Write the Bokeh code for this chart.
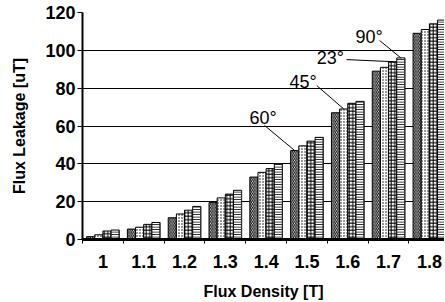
from bokeh.plotting import figure
from bokeh.models import ColumnDataSource, FixedTicker, Label
from bokeh.transform import dodge
from bokeh.embed import file_html
from bokeh.resources import INLINE

categories = ["1", "1.1", "1.2", "1.3", "1.4", "1.5", "1.6", "1.7", "1.8"]
series_names = ["60°", "45°", "23°", "90°"]
s60 = [1.5, 5.5, 11.5, 19.5, 33, 47, 67, 89, 109]
s45 = [2.5, 6.5, 13.5, 22, 35.5, 49.5, 69, 91, 111]
s23 = [4.5, 8, 15.5, 24, 37.5, 52, 72, 94, 114]
s90 = [5, 9, 17.5, 26, 40, 54, 73, 96, 116]
y_ticks = [0, 20, 40, 60, 80, 100, 120]

xs = list(range(len(categories)))
src = ColumnDataSource(dict(x=xs, s60=s60, s45=s45, s23=s23, s90=s90))

FONT = "Liberation Sans"

p = figure(frame_width=362, frame_height=227, output_backend="svg", toolbar_location=None,
           x_range=(-0.5, 8.37), y_range=(0, 120),
           min_border_left=82, min_border_right=0, min_border_top=12, min_border_bottom=55)
p.outline_line_color = None
p.background_fill_color = "white"
p.border_fill_color = "white"

cols = ["s60", "s45", "s23", "s90"]
offsets = [-0.3, -0.1, 0.1, 0.3]
patterns = ["\\", ".", "+", "-"]
scales = [3.5, 3, 3.5, 2.5]
for c, off, pat, sc in zip(cols, offsets, patterns, scales):
    p.vbar(x=dodge("x", off), top=c, width=0.2, bottom=0, source=src,
           fill_color="white", line_color="black", line_width=1,
           hatch_pattern=pat, hatch_color="black", hatch_scale=sc, hatch_weight=1)
    # dark side edge for a 3D look
    p.vbar(x=dodge("x", off + 0.095), top=c, width=0.025, bottom=0, source=src,
           fill_color="#333333", line_color=None)

# axes
p.xaxis.ticker = FixedTicker(ticks=xs, minor_ticks=[i + 0.5 for i in range(-1, len(categories))])
p.xaxis.major_label_overrides = {i: c for i, c in enumerate(categories)}
p.xaxis.major_tick_out = 0
p.xaxis.major_tick_in = 0
p.xaxis.minor_tick_out = 4
p.xaxis.minor_tick_in = 0
p.xaxis.minor_tick_line_color = "black"
p.xaxis.axis_line_width = 3
p.xaxis.axis_line_color = "black"
p.xaxis.major_label_text_font = FONT
p.xaxis.major_label_text_font_style = "bold"
p.xaxis.major_label_text_font_size = "18px"
p.xaxis.major_label_text_color = "black"
p.xaxis.major_label_standoff = 11
p.xaxis.axis_label = "Flux Density [T]"
p.xaxis.axis_label_text_font = FONT
p.xaxis.axis_label_text_font_style = "bold"
p.xaxis.axis_label_text_font_size = "16px"
p.xaxis.axis_label_text_color = "black"
p.xaxis.axis_label_standoff = 12

p.yaxis.ticker = FixedTicker(ticks=y_ticks)
p.yaxis.major_tick_out = 5
p.yaxis.major_tick_in = 0
p.yaxis.minor_tick_line_color = None
p.yaxis.axis_line_width = 2
p.yaxis.axis_line_color = "black"
p.yaxis.major_label_text_font = FONT
p.yaxis.major_label_text_font_style = "bold"
p.yaxis.major_label_text_font_size = "18px"
p.yaxis.major_label_text_color = "black"
p.yaxis.major_label_standoff = 2
p.yaxis.axis_label = "Flux Leakage [uT]"
p.yaxis.axis_label_text_font = FONT
p.yaxis.axis_label_text_font_style = "bold"
p.yaxis.axis_label_text_font_size = "16px"
p.yaxis.axis_label_text_color = "black"
p.yaxis.axis_label_standoff = 14

p.xgrid.grid_line_color = None
p.ygrid.ticker = FixedTicker(ticks=y_ticks)
p.ygrid.grid_line_color = "black"
p.ygrid.grid_line_width = 1
p.ygrid.level = "underlay"

# annotations: label position (data units), leader start, target bar (group, series)
ann = [
    ("60°", 3.59, 64.0, 3.96, 60.3, 5, 0),
    ("45°", 4.57, 83.0, 5.24, 81.4, 6, 1),
    ("23°", 5.24, 95.7, 5.97, 95.1, 7, 2),
    ("90°", 6.19, 106.8, 6.78, 105.2, 7, 3),
]
series = [s60, s45, s23, s90]
for txt, lx, ly, sx, sy, gi, si in ann:
    p.add_layout(Label(x=lx, y=ly, text=txt, text_font=FONT, text_font_size="18px",
                       text_color="black", text_baseline="alphabetic"))
    p.segment(x0=[sx], y0=[sy], x1=[gi + offsets[si]], y1=[series[si][gi]],
              line_color="black", line_width=1)

open("out.html", "w").write(file_html(p, INLINE))
